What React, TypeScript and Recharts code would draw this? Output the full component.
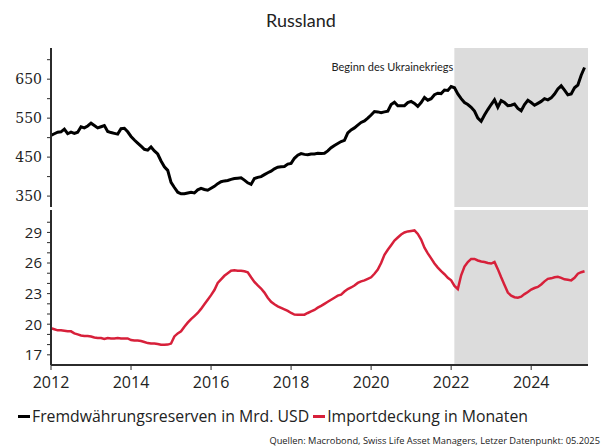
import {
  Line,
  LineChart,
  ReferenceArea,
  XAxis,
  YAxis,
} from 'recharts'

// monthly, Jan 2012 – May 2025
const reserves = [
  506, 510, 514, 515, 522, 510, 514, 511, 514, 528, 525, 530,
  537, 531, 525, 528, 531, 516, 513, 511, 509, 523, 524, 515,
  503, 494, 486, 478, 470, 468, 476, 466, 458, 440, 425, 416,
  385, 372, 360, 356, 356, 358, 360, 358, 366, 370, 367, 365,
  370, 375, 382, 387, 389, 390, 393, 395, 396, 397, 391, 384,
  380, 395, 398, 400, 405, 410, 414, 420, 424, 425, 426, 432,
  434, 447, 455, 459, 457, 456, 458, 458, 460, 459, 460, 466,
  474, 480, 485, 490, 493, 512, 520, 525, 532, 539, 543, 550,
  558, 567, 566, 564, 566, 568, 585, 591, 582, 582, 582, 590,
  593, 588, 580, 590, 603, 596, 600, 610, 614, 613, 622, 621,
  631, 628, 612, 600, 590, 585, 578, 568, 550, 542, 558, 572,
  585, 597, 578, 595, 590, 582, 583, 586, 575, 569, 585, 596,
  590, 583, 588, 593, 600, 597, 602, 612, 625, 633, 622, 610,
  612, 628, 635, 660, 680,
]

const importCover = [
  19.6, 19.5, 19.4, 19.4, 19.35, 19.3, 19.3, 19.1, 19.0, 18.9, 18.85, 18.85,
  18.8, 18.7, 18.65, 18.65, 18.55, 18.65, 18.6, 18.6, 18.65, 18.6, 18.6, 18.6,
  18.45, 18.4, 18.4, 18.35, 18.25, 18.15, 18.1, 18.1, 18.05, 17.98, 17.98, 18.0,
  18.1, 18.8, 19.1, 19.3, 19.75, 20.15, 20.5, 20.8, 21.1, 21.5, 21.95, 22.4,
  22.85, 23.35, 24.05, 24.4, 24.75, 25.0, 25.25, 25.3, 25.25, 25.25, 25.2, 25.1,
  24.6, 24.15, 23.8, 23.5, 23.1, 22.6, 22.2, 21.95, 21.75, 21.6, 21.45, 21.3,
  21.1, 20.95, 20.94, 20.94, 20.94, 21.1, 21.25, 21.4, 21.62, 21.8, 22.0, 22.2,
  22.4, 22.6, 22.8, 22.9, 23.2, 23.45, 23.6, 23.8, 24.05, 24.2, 24.3, 24.45,
  24.6, 24.95, 25.35, 26.0, 26.8, 27.3, 27.75, 28.2, 28.5, 28.8, 29.0, 29.1,
  29.15, 29.2, 28.85, 28.3, 27.5, 26.95, 26.45, 25.95, 25.55, 25.2, 24.9, 24.55,
  24.3, 23.75, 23.45, 24.8, 25.65, 26.1, 26.4, 26.4, 26.25, 26.15, 26.1, 26.0,
  25.95, 26.1, 25.4, 24.6, 23.85, 23.1, 22.8, 22.65, 22.6, 22.7, 22.95, 23.15,
  23.4, 23.55, 23.65, 23.9, 24.2, 24.45, 24.5, 24.6, 24.65, 24.55, 24.4, 24.35,
  24.3, 24.55, 24.95, 25.1, 25.2,
]

const months = reserves.map((_, i) => 2012 + i / 12)

const yearTicks = [2012, 2014, 2016, 2018, 2020, 2022, 2024]
const reserveTicks = [350, 400, 450, 500, 550, 600, 650, 700]
const reserveLabels = [350, 450, 550, 650]
const coverTicks = [17, 18, 19, 20, 21, 22, 23, 24, 25, 26, 27, 28, 29, 30]
const coverLabels = [17, 20, 23, 26, 29]

const warStart = 2022.08
const xEnd = 2025.42

const axisColor = '#2b2b2b'
const textColor = '#222'

export default function App() {
  const topData = months.map((t, i) => ({ t, v: reserves[i] }))
  const bottomData = months.map((t, i) => ({ t, v: importCover[i] }))

  return (
    <div
      style={{
        position: 'absolute',
        left: 0,
        top: 0,
        width: 602,
        height: 446,
        background: '#fff',
        fontFamily: "'Open Sans', sans-serif",
        color: textColor,
      }}
    >
      <div
        style={{
          position: 'absolute',
          top: 11,
          left: 0,
          width: 602,
          textAlign: 'center',
          fontFamily: 'Lato',
          fontSize: 18,
          lineHeight: '18px',
        }}
      >
        Russland
      </div>

      <div style={{ position: 'absolute', left: 0, top: 0 }}>
        <LineChart width={602} height={208} data={topData} margin={{ top: 48, right: 14, left: 0, bottom: 1 }}>
          <ReferenceArea
            x1={warStart}
            x2={xEnd}
            fill="#dcdcdc"
            fillOpacity={1}
            stroke="none"
            ifOverflow="hidden"
            label={(props: any) => {
              const vb = props.viewBox
              return (
                <text
                  x={vb.x - 1}
                  y={vb.y + 23}
                  textAnchor="end"
                  fontFamily="Lato"
                  fontSize={11}
                  fill="#222"
                >
                  Beginn des Ukrainekriegs
                </text>
              )
            }}
          />
          <XAxis
            type="number"
            dataKey="t"
            domain={[2012, xEnd]}
            ticks={yearTicks}
            tick={false}
            tickLine={false}
            height={0}
            axisLine={{ stroke: axisColor, strokeWidth: 2 }}
          />
          <YAxis
            domain={[322, 730]}
            ticks={reserveTicks}
            interval={0}
            width={51}
            allowDataOverflow
            tickSize={4}
            tickMargin={5}
            tickLine={{ stroke: axisColor }}
            axisLine={{ stroke: axisColor, strokeWidth: 2 }}
            tick={{ fill: textColor, fontSize: 14, fontFamily: 'DejaVu Serif' }}
            tickFormatter={(v) => (reserveLabels.includes(v) ? String(v) : '')}
          />
          <Line
            type="linear"
            dataKey="v"
            stroke="#000"
            strokeWidth={3}
            dot={false}
            isAnimationActive={false}
          />
        </LineChart>
      </div>

      <div style={{ position: 'absolute', left: 0, top: 208 }}>
        <LineChart width={602} height={190} data={bottomData} margin={{ top: 2, right: 14, left: 0, bottom: 3 }}>
          <ReferenceArea
            x1={warStart}
            x2={xEnd}
            fill="#dcdcdc"
            fillOpacity={1}
            stroke="none"
            ifOverflow="hidden"
          />
          <XAxis
            type="number"
            dataKey="t"
            domain={[2012, xEnd]}
            ticks={yearTicks}
            interval={0}
            height={30}
            tickSize={5}
            tickMargin={7}
            tickLine={{ stroke: axisColor }}
            axisLine={{ stroke: axisColor, strokeWidth: 2 }}
            tick={{ fill: textColor, fontSize: 16, fontFamily: 'Open Sans' }}
          />
          <YAxis
            domain={[16, 31.2]}
            ticks={coverTicks}
            interval={0}
            width={51}
            allowDataOverflow
            tickSize={4}
            tickMargin={5}
            tickLine={{ stroke: axisColor }}
            axisLine={{ stroke: axisColor, strokeWidth: 2 }}
            tick={{ fill: textColor, fontSize: 15, fontFamily: 'Open Sans' }}
            tickFormatter={(v) => (coverLabels.includes(v) ? String(v) : '')}
          />
          <Line
            type="linear"
            dataKey="v"
            stroke="#d7203a"
            strokeWidth={2.5}
            dot={false}
            isAnimationActive={false}
          />
        </LineChart>
      </div>

      <div
        style={{
          position: 'absolute',
          left: 18,
          top: 408,
          display: 'flex',
          alignItems: 'center',
          fontSize: 15.8,
          lineHeight: '16px',
          whiteSpace: 'nowrap',
        }}
      >
        <span style={{ display: 'inline-block', width: 12, height: 3, background: '#000', marginRight: 2 }} />
        <span>Fremdwährungsreserven in Mrd. USD</span>
        <span style={{ display: 'inline-block', width: 12, height: 3, background: '#d7203a', marginLeft: 4, marginRight: 2 }} />
        <span>Importdeckung in Monaten</span>
      </div>

      <div
        style={{
          position: 'absolute',
          right: 2,
          top: 436,
          fontSize: 9.3,
          lineHeight: '10px',
          whiteSpace: 'nowrap',
        }}
      >
        Quellen: Macrobond, Swiss Life Asset Managers, Letzer Datenpunkt: 05.2025
      </div>
    </div>
  )
}
